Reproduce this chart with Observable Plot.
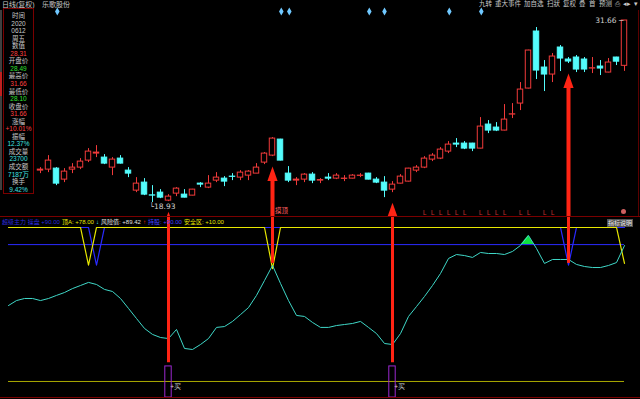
<!DOCTYPE html>
<html><head><meta charset="utf-8">
<script src="https://cdn.jsdelivr.net/npm/d3@7"></script>
<script src="https://cdn.jsdelivr.net/npm/@observablehq/plot@0.6"></script>
<style>
body{margin:0;background:#000;overflow:hidden}
#wrap{position:relative;width:640px;height:399px;background:#000;font-family:"Liberation Sans","Noto Sans CJK SC",sans-serif;overflow:hidden}
#upper,#lower{position:absolute;left:0}
#upper{top:0}#lower{top:217px}
.t{position:absolute;white-space:nowrap;line-height:1;font-size:7px}
.hl{position:absolute;left:0;width:640px;height:1px;background:#7a0000}
#info{position:absolute;left:3px;top:8px;width:29px;height:184px;border:1px solid #7a0000;background:#000}
#info div{position:absolute;left:0;width:29px;text-align:center;font-size:6.5px;line-height:1;white-space:nowrap}
</style></head><body>
<div id="wrap"><div id="upper"></div><div id="lower"></div></div>
<script>
// ---------- data ----------
const firstIndex = 4; // candles at indices 0-3 are hidden behind the info box
const opens  = [21.16,21.23,21.30,20.53,21.23,21.37,21.86,22.35,22.07,21.37,22.00,21.16,19.76,20.32,19.43,19.62,19.06,19.55,19.48,19.41,20.25,19.97,20.46,20.60,20.74,20.67,20.81,20.95,21.72,22.21,23.33,20.95,20.46,20.53,20.88,20.46,20.67,20.60,20.58,20.60,20.79,20.95,20.53,20.32,19.83,20.25,20.39,21.16,21.37,21.93,22.00,22.49,23.05,23.05,23.05,22.70,24.38,24.17,23.96,25.08,25.85,26.90,30.89,28.37,27.88,29.77,28.93,29.07,28.93,28.30,28.44,28.02,29.07,28.49];
const highs  = [21.37,22.21,21.37,21.30,21.65,22.00,22.70,22.91,22.28,22.07,22.21,21.37,20.67,20.60,20.11,19.83,19.48,19.97,19.83,19.85,20.32,20.81,21.02,20.74,20.95,21.16,21.16,21.65,22.42,23.47,23.35,21.44,20.67,20.95,21.02,20.60,20.95,20.95,20.81,20.88,20.95,20.97,20.67,20.74,20.39,20.88,21.32,21.51,22.14,22.35,22.77,23.19,23.40,23.19,23.07,24.87,24.66,24.52,25.78,25.85,27.32,29.58,31.17,28.86,29.35,29.91,29.07,29.21,29.07,29.07,28.86,29.00,29.09,31.66];
const lows   = [20.95,21.02,20.11,20.32,20.95,21.23,21.72,22.07,21.58,20.81,21.62,20.67,19.62,19.41,18.93,19.20,18.99,19.34,19.25,19.40,19.97,19.90,20.32,20.04,20.46,20.46,20.46,20.95,21.58,22.14,21.84,20.32,20.11,20.32,20.25,20.25,20.46,20.53,20.39,20.58,20.67,20.51,20.25,19.27,19.62,20.23,20.37,21.02,21.30,21.79,21.93,22.35,22.77,22.63,22.49,22.68,23.75,23.89,23.94,24.80,25.36,26.88,27.53,26.69,27.32,28.09,28.65,28.02,28.02,27.95,27.81,28.00,28.51,28.10];
const closes = [21.23,21.86,20.25,21.09,21.37,21.79,22.49,22.42,21.65,21.93,21.65,20.95,20.25,19.48,19.41,19.27,19.34,19.90,19.27,19.83,20.18,20.25,20.67,20.39,20.72,21.02,21.09,21.37,22.35,23.40,21.86,20.46,20.53,20.88,20.46,20.50,20.60,20.81,20.60,20.81,20.81,20.53,20.32,19.76,20.18,20.74,21.30,21.37,22.00,22.21,22.63,22.98,22.98,22.70,22.70,24.24,23.96,23.96,24.73,25.10,26.83,29.56,28.16,27.88,29.14,29.00,28.79,28.23,28.23,28.32,28.30,28.72,28.78,31.66];

// lower indicator (风险值), indices 0..77
const risk = [54.4,57.3,58.5,58.5,57.3,58.5,60.3,62.0,64.3,66.1,67.9,66.7,63.8,62.6,58.5,52.7,46.8,41.0,37.5,35.7,35.1,40.4,29.3,28.7,31.6,35.1,41.6,42.1,45.1,49.1,53.2,60.3,69.0,77.8,67.3,57.3,48.6,48.0,44.5,41.6,41.6,42.7,43.3,43.9,45.1,41.6,38.0,32.2,31.6,38.0,48.0,53.8,59.7,66.1,73.1,81.9,84.2,83.6,82.5,85.4,84.8,84.8,84.2,86.0,89.5,95.3,87.7,79.0,81.3,81.3,81.3,78.4,77.2,76.6,76.6,77.8,79.5,89.42];
const topLineDips  = [[10,78],[33,76],[77,79]];   // 顶 line: 100 except these
const blueLineDips = [[11,78],[70,78]];           // blue V line: 100 except these
const holdLevel = 90, safeLevel = 10, topLevel = 100;

const arrowIdx    = [20,33,48,70];
const arrowBottom = [21,79,21,79];
const buyIdx = [20,48];
const buyBox = [0.6,18.8];
const eventIdx = [6.1,34.1,35.1,45.1,47,55.1,59.1];
const markIdx = [52,53,54,55,56,57,59,60,61,62,64,65,67,68];

const infoRows = [["时间","#c8c8c8"],["2020","#c8c8c8"],["0612","#c8c8c8"],["周五","#c8c8c8"],["数值","#c8c8c8"],["28.31","#ff4040"],
 ["开盘价","#c8c8c8"],["28.49","#30e030"],["最高价","#c8c8c8"],["31.66","#ff4040"],["最低价","#c8c8c8"],["28.10","#30e030"],
 ["收盘价","#c8c8c8"],["31.66","#ff4040"],["涨幅","#c8c8c8"],["+10.01%","#ff4040"],["振幅","#c8c8c8"],["12.37%","#40e0e0"],
 ["成交量","#c8c8c8"],["23700","#40e0e0"],["成交额","#c8c8c8"],["7187万","#40e0e0"],["换手","#c8c8c8"],["9.42%","#40e0e0"]];
const toolbarItems = ["九转","重大事件","加自选","扫狀","复权","叠","首","预测","⎙","◂▸","▾"];

// ---------- colours ----------
const UP="#f03a3a", DOWN="#54fcfc", ARROW="#ff2414", CYANL="#3fd8c8", YEL="#e8e800", YEL2="#a8a800", BLUE="#2a2aff", GREEN="#10e040", PURPLE="#9c28d0";

const candles = opens.map((o,k)=>({i:k+firstIndex,o,h:highs[k],l:lows[k],c:closes[k],up:closes[k]>o}));
const xs = {type:"linear",domain:[-1,79],range:[0,640],axis:null};
const headSym = {draw(ctx,size){const r=Math.sqrt(size/Math.PI);ctx.moveTo(0,0);ctx.lineTo(r*0.85,r*2.4);ctx.lineTo(-r*0.85,r*2.4);ctx.closePath();}};

const minC = candles.reduce((a,b)=>b.l<a.l?b:a);
const maxC = candles.reduce((a,b)=>b.h>a.h?b:a);
const arrows = arrowIdx.map((i,k)=>({i,low:candles[i-firstIndex].l,bottom:arrowBottom[k]}));

const upperChart = Plot.plot({
  width:640,height:217,margin:0,
  x:xs, y:{domain:[17.88,33.06],axis:null}, color:{type:"identity"},
  style:"background:transparent;overflow:hidden",
  marks:[
    Plot.ruleX(candles,{x:"i",y1:"l",y2:"h",stroke:d=>d.up?UP:DOWN,strokeWidth:1}),
    Plot.rect(candles,{x1:d=>d.i-0.34,x2:d=>d.i+0.34,y1:d=>Math.min(d.o,d.c),y2:d=>Math.max(d.o,d.c),fill:d=>d.up?"#000":DOWN,stroke:d=>d.up?UP:DOWN,strokeWidth:1}),
    Plot.text([minC],{x:"i",y:"l",text:d=>"└"+d.l.toFixed(2),textAnchor:"start",dx:-3,dy:4,fill:"#d0d0d0",fontSize:7.5,fontFamily:"DejaVu Sans"}),
    Plot.text([maxC],{x:"i",y:"h",text:d=>d.h.toFixed(2)+" ─",textAnchor:"end",dx:-1,dy:0,fill:"#d0d0d0",fontSize:7.5,fontFamily:"DejaVu Sans"}),
    Plot.dot(eventIdx,{x:d=>d,frameAnchor:"top",dy:11,symbol:"diamond",r:2.4,fill:"#70c8ff"}),
    Plot.text(markIdx,{x:d=>d,frameAnchor:"bottom",dy:-3,text:()=>"L",fill:"#c03030",fontSize:7}),
    Plot.ruleX(arrows,{x:"i",y1:"low",y2:()=>0,dy:18,stroke:ARROW,strokeWidth:4}),
    Plot.dot(arrows,{x:"i",y:"low",dy:10,symbol:headSym,r:6,fill:ARROW})
  ]
});
document.getElementById("upper").appendChild(upperChart);

// lower panel
const topSeries = d3.range(0,78).map(i=>({i,v:(topLineDips.find(d=>d[0]===i)||[0,topLevel])[1]}));
const blueSeries = d3.range(0,78).map(i=>({i,v:(blueLineDips.find(d=>d[0]===i)||[0,topLevel])[1]}));
const riskPts = risk.map((v,i)=>({i,v}));
const areaPts = [];
riskPts.forEach((p,k)=>{
  areaPts.push({i:p.i,v:Math.max(p.v,holdLevel)});
  const n = riskPts[k+1];
  if(n && (p.v-holdLevel)*(n.v-holdLevel)<0){const t=(holdLevel-p.v)/(n.v-p.v);areaPts.push({i:p.i+t,v:holdLevel});}
});
const lowerChart = Plot.plot({
  width:640,height:182,margin:0,
  x:xs, y:{domain:[-0.53,105.84],axis:null}, color:{type:"identity"},
  style:"background:transparent;overflow:hidden",
  marks:[
    Plot.ruleY([safeLevel],{x1:0,x2:77,stroke:YEL2,strokeWidth:1}),
    Plot.ruleY([holdLevel],{x1:0,x2:77,stroke:BLUE,strokeWidth:1}),
    Plot.areaY(areaPts,{x:"i",y1:holdLevel,y2:"v",fill:GREEN}),
    Plot.line(blueSeries,{x:"i",y:"v",stroke:BLUE,strokeWidth:1.2}),
    Plot.line(topSeries,{x:"i",y:"v",stroke:YEL,strokeWidth:1.2}),
    Plot.line(riskPts,{x:"i",y:"v",stroke:CYANL,strokeWidth:1}),
    Plot.ruleX(arrows,{x:"i",y1:"bottom",y2:()=>200,stroke:ARROW,strokeWidth:3}),
    Plot.rect(buyIdx,{x1:d=>d-0.4,x2:d=>d+0.4,y1:buyBox[0],y2:buyBox[1],fill:"none",stroke:PURPLE,strokeWidth:1}),
    Plot.text(buyIdx,{x:d=>d,y:safeLevel,text:()=>"+买",dx:7,dy:5,fill:"#d0d0d0",fontSize:6.5})
  ]
});
document.getElementById("lower").appendChild(lowerChart);

// ---------- html chrome ----------
const wrap = document.getElementById("wrap");
function addT(txt,x,y,color,size,extra){const d=document.createElement("div");d.className="t";d.textContent=txt;d.style.left=x+"px";d.style.top=y+"px";d.style.color=color;if(size)d.style.fontSize=size+"px";if(extra)Object.assign(d.style,extra);wrap.appendChild(d);return d;}
function box(x,y,w,h,bg){const d=document.createElement("div");Object.assign(d.style,{position:"absolute",left:x+"px",top:y+"px",width:w+"px",height:h+"px",background:bg});wrap.appendChild(d);return d;}
box(0,216,640,1,"#7a0000");box(0,397,640,1,"#7a0000");box(638,10,1,206,"#5a0000");
box(0,10,2,180,"#404040");box(0,72,2,24,"#c02020");
addT("日线(复权)",2,1,"#c8c8c8",7);
addT("乐歌股份",42,1,"#c8c8c8",7);
// toolbar laid out right-aligned
{let x=638;const els=toolbarItems.slice().reverse().map(t=>addT(t,0,1,"#c8c8c8",6.5));
 els.forEach(e=>{x-=e.offsetWidth;e.style.left=x+"px";x-=3;});}
// lower label row laid out left-to-right, never overlapping
{const row=[["超级主力 操盘 +90.00","#2a2ad8",2],["顶A: +78.00",YEL,60],["↓",DOWN,91],["风险值: +89.42","#e0e0e0",98],["↑",ARROW,137],["持股: +90.00","#4040ff",143],["安全区: +10.00",YEL,177]];
 let end=0;row.forEach(([t,c,x])=>{const e=addT(t,0,219,c,6);const l=Math.max(x,end+2);e.style.left=l+"px";end=l+e.offsetWidth;});}
addT("摸顶",275,208,"#ff6060",6.5);
addT("指标说明",607,219,"#e8e8e8",6,{background:"#505050",padding:"1px 1px"});
box(621,209,5,5,"#d06060").style.borderRadius="50%";
// info box
const info=document.createElement("div");info.id="info";wrap.appendChild(info);
infoRows.forEach(([t,c],k)=>{const d=document.createElement("div");d.textContent=t;d.style.color=c;d.style.top=(4+k*7.55)+"px";info.appendChild(d);});
</script>
</body></html>
